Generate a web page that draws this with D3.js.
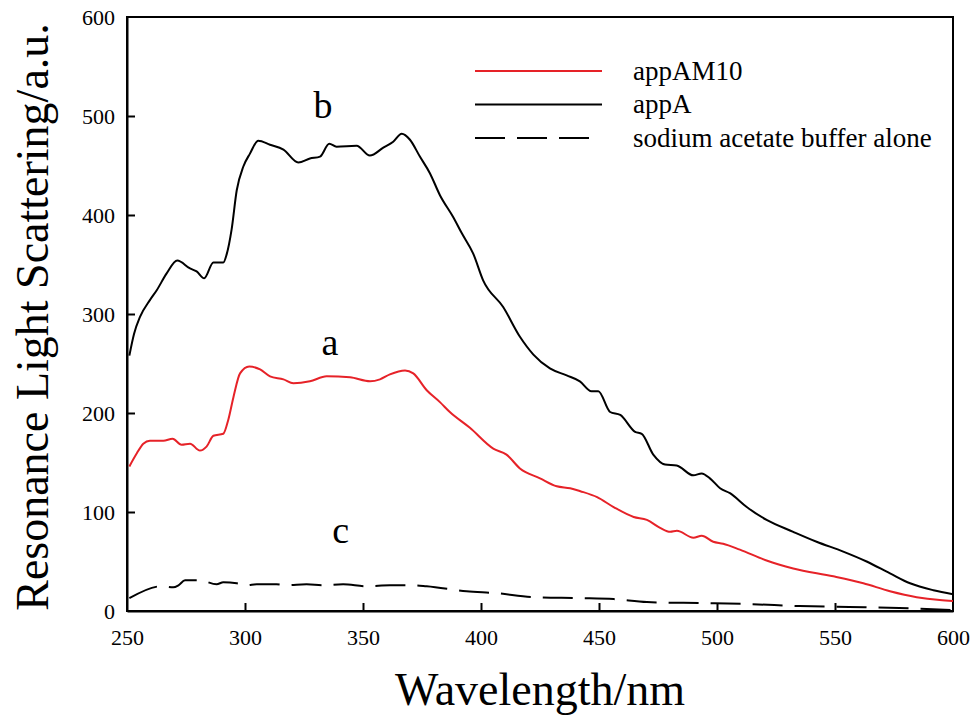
<!DOCTYPE html>
<meta charset="utf-8">
<head>
    <title>Resonance Light Scattering</title>
    <script src="https://d3js.org/d3.v7.min.js"></script>
    <style>
        body { margin: 0; background: #fff; }
        .axis path, .axis line { stroke: #000; stroke-width: 2px; }
        .curve { fill: none; stroke-width: 2px; }
    </style>
</head>
<body>
<svg width="976" height="727"></svg>
<script>
    // appAM10 (red)
    var amWave = [251, 254.1, 256.9, 259.7, 265.4, 269.3, 273.1, 276.7, 280.9, 283.7, 286.6, 290.8, 292.9, 295.1, 297.9, 301.8,
        306.4, 310.6, 316.3, 320.5, 327.5, 334.6, 344.5, 353, 357.2, 361.4, 367.8, 371.3, 377, 382.6, 386.8, 395.3, 405.2, 410.8,
        416.5, 425, 432.1, 437.8, 442.1, 449.2, 456.2, 464.7, 470.3, 475.9, 480.2, 483, 490, 493.5, 498.4, 502.6, 509.7, 521,
        532.3, 549.3, 562, 573.3, 584.6, 594.4, 600];
    var amValues = [146, 159, 169, 172, 172, 174, 168, 169, 162, 166, 177, 179, 193, 216, 240, 247,
        244, 237, 234, 230, 232, 237, 236, 232, 234, 239, 243, 240, 223, 211, 201, 185, 164, 158,
        144, 134, 126, 124, 121, 115, 105, 95, 92, 84, 80, 81, 74, 76, 70, 68, 62, 51,
        43, 35, 28, 20, 14, 11, 10];

    // appA (black)
    var aWave = [251, 253, 255.5, 259.7, 262.6, 266.8, 271.3, 276.7, 279.5, 282.7, 286.6, 290.8, 292.2, 294.3, 296.5, 299.3,
        302.1, 305.6, 310.6, 316.3, 322.6, 327.5, 331.8, 335.7, 338.8, 347.3, 352.9, 358.6, 362.8, 366.4, 369.9, 374.1, 378.4,
        382.6, 388.2, 392, 396.7, 400.9, 409.4, 416.5, 422.2, 429.2, 436.3, 441.9, 446.8, 449.7, 454.7, 459, 465.3, 468.1,
        473, 478, 482.9, 490, 493.5, 497, 501.3, 505.5, 512.6, 521, 532.3, 542.2, 553.5, 563.4, 573.3, 581.8, 591.7, 600];
    var aValues = [258, 280, 297, 314, 324, 341, 354, 346, 343, 336, 352, 352, 360, 385, 425, 449,
        462, 475, 471, 466, 453, 457, 459, 472, 469, 470, 460, 468, 474, 482, 476, 459, 442,
        420, 398, 381, 361, 334, 307, 277, 259, 245, 238, 232, 222, 222, 201, 198, 181, 179,
        158, 148, 147, 137, 139, 134, 124, 119, 105, 92, 80, 70, 60, 50, 38, 28, 21, 17];

    // sodium acetate buffer alone (dashed)
    var bufWave = [251, 264.7, 269.6, 271.8, 274.6, 280.9, 288, 290.8, 296.5, 300.7, 305, 313.4, 317.6, 326.1, 333.1, 341.6,
        351.5, 361.4, 371.3, 377, 393.9, 406.6, 422.2, 441.9, 456.2, 470.3, 493, 513.7, 534.9, 556, 577.2, 600];
    var bufValues = [13, 25, 24, 26, 31, 31, 27, 29, 28, 26, 27, 27, 26, 27, 26, 27,
        25, 26, 26, 25, 20, 18, 14, 13, 12, 9, 8, 7, 5, 4, 3, 1];

    var seriesNames = ["appAM10", "appA", "sodium acetate buffer alone"];
    var curveLabels = ["a", "b", "c"];
    var xTicks = [250, 300, 350, 400, 450, 500, 550, 600];
    var yTicks = [0, 100, 200, 300, 400, 500, 600];

    var serif = "'Liberation Serif', 'Times New Roman', Times, 'DejaVu Serif', serif";

    var svg = d3.select("svg").style("font-family", serif),
        margin = { top: 17, right: 23, bottom: 116, left: 127 },
        width = +svg.attr("width") - margin.left - margin.right,
        height = +svg.attr("height") - margin.top - margin.bottom,
        g = svg.append("g").attr("transform", "translate(" + margin.left + "," + margin.top + ")");

    var x = d3.scaleLinear().domain([250, 600]).range([0, width]);
    var y = d3.scaleLinear().domain([0, 600]).range([height, 0]);

    var series = [
        { name: seriesNames[0], color: "#e62228", dash: null, pts: d3.zip(amWave, amValues) },
        { name: seriesNames[1], color: "#000", dash: null, pts: d3.zip(aWave, aValues) },
        { name: seriesNames[2], color: "#000", dash: "30,12", pts: d3.zip(bufWave, bufValues) }
    ];

    var line = d3.line()
        .curve(d3.curveMonotoneX)
        .x(function (d) { return x(d[0]); })
        .y(function (d) { return y(d[1]); });

    // frame
    g.append("rect")
        .attr("width", width).attr("height", height)
        .attr("fill", "none").attr("stroke", "#000").attr("stroke-width", 2);

    // axes, ticks pointing inward
    var xAxis = g.append("g").attr("class", "axis")
        .attr("transform", "translate(0," + height + ")")
        .call(d3.axisBottom(x).tickValues(xTicks).tickSizeInner(-8).tickSizeOuter(0).tickPadding(14));
    xAxis.selectAll(".tick line").filter(function (d) { return d === 250 || d === 600; }).remove();

    var yAxis = g.append("g").attr("class", "axis")
        .call(d3.axisLeft(y).tickValues(yTicks).tickSizeInner(-8).tickSizeOuter(0).tickPadding(12));
    yAxis.selectAll(".tick line").filter(function (d) { return d === 0 || d === 600; }).remove();

    g.selectAll(".axis").attr("font-family", null).attr("font-size", null);
    g.selectAll(".axis text")
        .style("font-family", serif)
        .style("font-size", "22px")
        .attr("fill", "#000");
    xAxis.selectAll("text").attr("dy", "0.9em");

    g.selectAll(".curve")
        .data(series)
        .enter().append("path")
        .attr("class", "curve")
        .attr("stroke", function (d) { return d.color; })
        .attr("stroke-dasharray", function (d) { return d.dash; })
        .attr("d", function (d) { return line(d.pts); });

    // curve letters
    var labelPos = [[336, 259], [333, 498], [340.5, 69]];
    g.selectAll(".clabel")
        .data(curveLabels)
        .enter().append("text")
        .attr("class", "clabel")
        .attr("x", function (d, i) { return x(labelPos[i][0]); })
        .attr("y", function (d, i) { return y(labelPos[i][1]); })
        .attr("text-anchor", "middle")
        .style("font-family", serif)
        .style("font-size", "38px")
        .text(function (d) { return d; });

    // legend
    var legend = g.selectAll(".legend")
        .data(series)
        .enter().append("g")
        .attr("class", "legend")
        .attr("transform", function (d, i) { return "translate(" + (475 - margin.left) + "," + (71 - margin.top + i * 33.5) + ")"; });

    legend.append("line")
        .attr("x1", 0).attr("x2", function (d) { return d.dash ? 125 : 127; })
        .attr("stroke", function (d) { return d.color; })
        .attr("stroke-width", 2)
        .attr("stroke-dasharray", function (d) { return d.dash; });

    legend.append("text")
        .attr("x", 158)
        .attr("dy", "0.33em")
        .style("font-family", serif)
        .style("font-size", "27px")
        .text(function (d) { return d.name; });

    // axis titles
    svg.append("text")
        .attr("x", margin.left + width / 2)
        .attr("y", 705)
        .attr("text-anchor", "middle")
        .style("font-family", serif)
        .style("font-size", "46px")
        .text("Wavelength/nm");

    svg.append("text")
        .attr("transform", "translate(48,317) rotate(-90)")
        .attr("text-anchor", "middle")
        .style("font-family", serif)
        .style("font-size", "46px")
        .text("Resonance Light Scattering/a.u.");
</script>
</body>
